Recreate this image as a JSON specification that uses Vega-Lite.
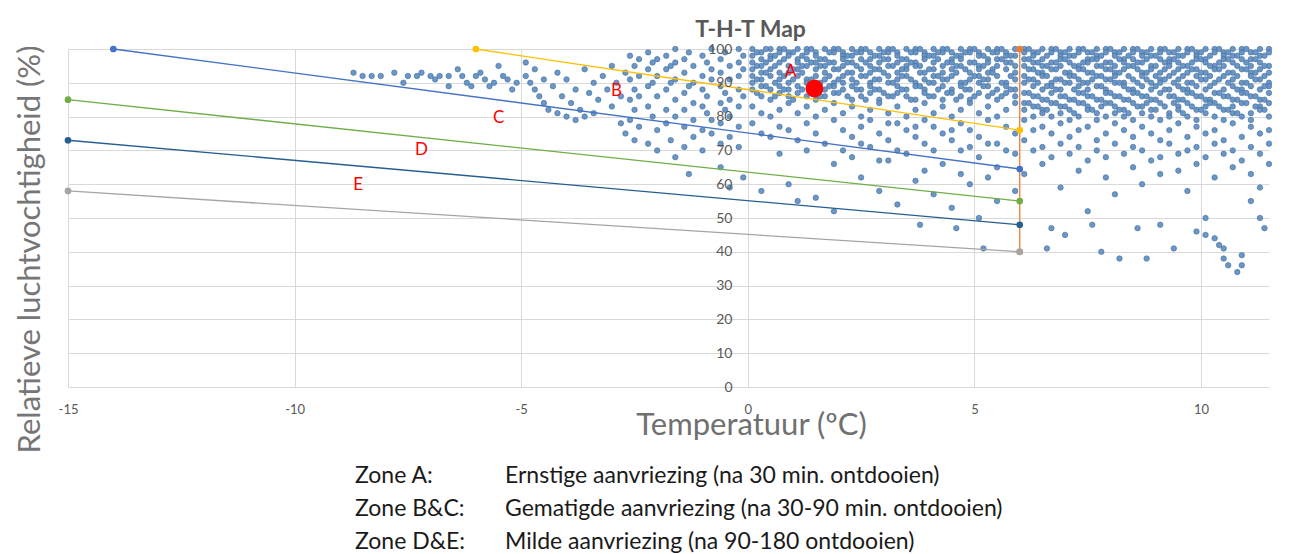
{
  "$schema": "https://vega.github.io/schema/vega-lite/v6.json",
  "background": "white",
  "padding": {"left": 13, "top": 19, "right": 5, "bottom": 0},
  "config": {"view": {"stroke": null}, "font": "Lato"},
  "spacing": 7,
  "datasets": {
    "pts": [
      {"t":-8.7,"h":93},{"t":-8.5,"h":92},{"t":-8.3,"h":92},{"t":-8.1,"h":92},{"t":-7.8,"h":93},{"t":-7.6,"h":90},{"t":-7.5,"h":92},{"t":-7.3,"h":92},{"t":-7.2,"h":93},{"t":-7.0,"h":92},{"t":-6.9,"h":91},{"t":-6.8,"h":92},{"t":-6.6,"h":92},{"t":-6.6,"h":89},{"t":-6.4,"h":94},{"t":-6.3,"h":92},{"t":-6.2,"h":90},{"t":-6.1,"h":89},{"t":-6.0,"h":92},{"t":-5.9,"h":93},{"t":-5.8,"h":91},{"t":-5.7,"h":89},{"t":-5.6,"h":90},{"t":-5.5,"h":95},{"t":-5.4,"h":92},{"t":-5.3,"h":91},{"t":-5.2,"h":88},{"t":-5.1,"h":90},{"t":-4.9,"h":92},{"t":-4.9,"h":96},{"t":-4.8,"h":90},{"t":-4.7,"h":94},{"t":-4.7,"h":88},{"t":-4.6,"h":86},{"t":-4.5,"h":91},{"t":-4.5,"h":84},{"t":-4.4,"h":82},{"t":-4.3,"h":89},{"t":-4.2,"h":93},{"t":-4.2,"h":81},{"t":-4.1,"h":86},{"t":-4.0,"h":91},{"t":-4.0,"h":80},{"t":-3.9,"h":84},{"t":-3.8,"h":88},{"t":-3.8,"h":79},{"t":-3.7,"h":82},{"t":-3.6,"h":94},{"t":-3.6,"h":80},{"t":-3.5,"h":87},{"t":-3.4,"h":90},{"t":-3.4,"h":81},{"t":-3.3,"h":85},{"t":-3.2,"h":92},{"t":-3.1,"h":88},{"t":-3.0,"h":83},{"t":-3.0,"h":95},{"t":-2.9,"h":90},{"t":-2.8,"h":86},{"t":-2.8,"h":78},{"t":-2.7,"h":93},{"t":-2.7,"h":75},
      {"t":-2.6,"h":98},{"t":-2.6,"h":91},{"t":-2.6,"h":85},{"t":-2.6,"h":79},{"t":-2.5,"h":95},{"t":-2.5,"h":88},{"t":-2.5,"h":82},{"t":-2.5,"h":73},{"t":-2.4,"h":97},{"t":-2.4,"h":92},{"t":-2.4,"h":86},{"t":-2.4,"h":77},{"t":-2.2,"h":99},{"t":-2.2,"h":94},{"t":-2.2,"h":89},{"t":-2.2,"h":83},{"t":-2.2,"h":72},{"t":-2.1,"h":96},{"t":-2.1,"h":90},{"t":-2.1,"h":80},{"t":-2.0,"h":97},{"t":-2.0,"h":92},{"t":-2.0,"h":86},{"t":-2.0,"h":76},{"t":-2.0,"h":70},{"t":-1.8,"h":98},{"t":-1.8,"h":94},{"t":-1.8,"h":88},{"t":-1.8,"h":82},{"t":-1.8,"h":78},{"t":-1.7,"h":95},{"t":-1.7,"h":90},{"t":-1.7,"h":73},{"t":-1.6,"h":100},{"t":-1.6,"h":96},{"t":-1.6,"h":91},{"t":-1.6,"h":85},{"t":-1.6,"h":80},{"t":-1.6,"h":68},{"t":-1.4,"h":97},{"t":-1.4,"h":93},{"t":-1.4,"h":87},{"t":-1.4,"h":82},{"t":-1.4,"h":77},{"t":-1.4,"h":71},{"t":-1.3,"h":99},{"t":-1.3,"h":89},{"t":-1.3,"h":63},{"t":-1.2,"h":95},{"t":-1.2,"h":90},{"t":-1.2,"h":84},{"t":-1.2,"h":79},{"t":-1.2,"h":74},{"t":-1.0,"h":98},{"t":-1.0,"h":92},{"t":-1.0,"h":88},{"t":-1.0,"h":83},{"t":-1.0,"h":76},{"t":-1.0,"h":70},{"t":-0.9,"h":96},{"t":-0.9,"h":86},{"t":-0.9,"h":81},{"t":-0.8,"h":100},{"t":-0.8,"h":94},{"t":-0.8,"h":91},{"t":-0.8,"h":79},{"t":-0.8,"h":75},{"t":-0.6,"h":97},{"t":-0.6,"h":93},{"t":-0.6,"h":89},{"t":-0.6,"h":84},{"t":-0.6,"h":78},{"t":-0.6,"h":72},{"t":-0.6,"h":65},{"t":-0.5,"h":99},{"t":-0.5,"h":87},{"t":-0.5,"h":82},{"t":-0.4,"h":95},{"t":-0.4,"h":91},{"t":-0.4,"h":85},{"t":-0.4,"h":80},{"t":-0.4,"h":74},{"t":-0.4,"h":59},{"t":-0.2,"h":100},{"t":-0.2,"h":96},{"t":-0.2,"h":92},{"t":-0.2,"h":88},{"t":-0.2,"h":83},{"t":-0.2,"h":77},{"t":-0.2,"h":71},{"t":-0.1,"h":98},{"t":-0.1,"h":94},{"t":-0.1,"h":86},{"t":-0.1,"h":62},
      {"t":0.1,"h":100},{"t":0.1,"h":98},{"t":0.1,"h":96},{"t":0.1,"h":94},{"t":0.1,"h":92},{"t":0.1,"h":90},{"t":0.1,"h":88},{"t":0.1,"h":83},{"t":0.1,"h":78},
      {"t":0.3,"h":99},{"t":0.3,"h":97},{"t":0.3,"h":95},{"t":0.3,"h":93},{"t":0.3,"h":91},{"t":0.3,"h":89},{"t":0.3,"h":86},{"t":0.3,"h":81},{"t":0.3,"h":75},{"t":0.3,"h":58},
      {"t":0.5,"h":100},{"t":0.5,"h":98},{"t":0.5,"h":97},{"t":0.5,"h":94},{"t":0.5,"h":92},{"t":0.5,"h":88},{"t":0.5,"h":85},{"t":0.5,"h":80},{"t":0.5,"h":74},
      {"t":0.7,"h":100},{"t":0.7,"h":99},{"t":0.7,"h":96},{"t":0.7,"h":93},{"t":0.7,"h":91},{"t":0.7,"h":89},{"t":0.7,"h":87},{"t":0.7,"h":82},{"t":0.7,"h":77},{"t":0.7,"h":69},
      {"t":0.9,"h":99},{"t":0.9,"h":98},{"t":0.9,"h":95},{"t":0.9,"h":93},{"t":0.9,"h":90},{"t":0.9,"h":88},{"t":0.9,"h":86},{"t":0.9,"h":84},{"t":0.9,"h":76},{"t":0.9,"h":60},
      {"t":1.1,"h":100},{"t":1.1,"h":97},{"t":1.1,"h":96},{"t":1.1,"h":94},{"t":1.1,"h":92},{"t":1.1,"h":89},{"t":1.1,"h":87},{"t":1.1,"h":81},{"t":1.1,"h":73},{"t":1.1,"h":55},
      {"t":1.3,"h":100},{"t":1.3,"h":99},{"t":1.3,"h":97},{"t":1.3,"h":95},{"t":1.3,"h":91},{"t":1.3,"h":90},{"t":1.3,"h":86},{"t":1.3,"h":83},{"t":1.3,"h":78},{"t":1.3,"h":70},
      {"t":1.5,"h":99},{"t":1.5,"h":98},{"t":1.5,"h":96},{"t":1.5,"h":94},{"t":1.5,"h":92},{"t":1.5,"h":89},{"t":1.5,"h":85},{"t":1.5,"h":80},{"t":1.5,"h":75},{"t":1.5,"h":56},
      {"t":1.7,"h":100},{"t":1.7,"h":97},{"t":1.7,"h":95},{"t":1.7,"h":93},{"t":1.7,"h":91},{"t":1.7,"h":88},{"t":1.7,"h":86},{"t":1.7,"h":82},{"t":1.7,"h":72},
      {"t":1.9,"h":100},{"t":1.9,"h":99},{"t":1.9,"h":96},{"t":1.9,"h":94},{"t":1.9,"h":90},{"t":1.9,"h":89},{"t":1.9,"h":87},{"t":1.9,"h":84},{"t":1.9,"h":79},{"t":1.9,"h":66},{"t":1.9,"h":52},
      {"t":2.1,"h":99},{"t":2.1,"h":98},{"t":2.1,"h":97},{"t":2.1,"h":95},{"t":2.1,"h":92},{"t":2.1,"h":90},{"t":2.1,"h":88},{"t":2.1,"h":81},{"t":2.1,"h":76},{"t":2.1,"h":70},
      {"t":2.3,"h":100},{"t":2.3,"h":98},{"t":2.3,"h":96},{"t":2.3,"h":93},{"t":2.3,"h":91},{"t":2.3,"h":89},{"t":2.3,"h":85},{"t":2.3,"h":83},{"t":2.3,"h":74},{"t":2.3,"h":68},
      {"t":2.5,"h":100},{"t":2.5,"h":99},{"t":2.5,"h":97},{"t":2.5,"h":94},{"t":2.5,"h":92},{"t":2.5,"h":88},{"t":2.5,"h":86},{"t":2.5,"h":80},{"t":2.5,"h":77},{"t":2.5,"h":72},{"t":2.5,"h":62},
      {"t":2.7,"h":99},{"t":2.7,"h":97},{"t":2.7,"h":95},{"t":2.7,"h":93},{"t":2.7,"h":90},{"t":2.7,"h":89},{"t":2.7,"h":87},{"t":2.7,"h":82},{"t":2.7,"h":79},{"t":2.7,"h":71},
      {"t":2.9,"h":100},{"t":2.9,"h":98},{"t":2.9,"h":96},{"t":2.9,"h":94},{"t":2.9,"h":91},{"t":2.9,"h":88},{"t":2.9,"h":85},{"t":2.9,"h":84},{"t":2.9,"h":75},{"t":2.9,"h":67},{"t":2.9,"h":58},
      {"t":3.1,"h":100},{"t":3.1,"h":99},{"t":3.1,"h":97},{"t":3.1,"h":95},{"t":3.1,"h":92},{"t":3.1,"h":90},{"t":3.1,"h":86},{"t":3.1,"h":81},{"t":3.1,"h":78},{"t":3.1,"h":73},{"t":3.1,"h":67},
      {"t":3.3,"h":99},{"t":3.3,"h":98},{"t":3.3,"h":96},{"t":3.3,"h":93},{"t":3.3,"h":91},{"t":3.3,"h":89},{"t":3.3,"h":87},{"t":3.3,"h":83},{"t":3.3,"h":78},{"t":3.3,"h":70},{"t":3.3,"h":54},
      {"t":3.5,"h":100},{"t":3.5,"h":97},{"t":3.5,"h":95},{"t":3.5,"h":94},{"t":3.5,"h":92},{"t":3.5,"h":88},{"t":3.5,"h":86},{"t":3.5,"h":80},{"t":3.5,"h":76},{"t":3.5,"h":69},
      {"t":3.7,"h":100},{"t":3.7,"h":99},{"t":3.7,"h":96},{"t":3.7,"h":95},{"t":3.7,"h":90},{"t":3.7,"h":89},{"t":3.7,"h":85},{"t":3.7,"h":82},{"t":3.7,"h":77},{"t":3.7,"h":74},{"t":3.7,"h":61},
      {"t":3.9,"h":99},{"t":3.9,"h":98},{"t":3.9,"h":97},{"t":3.9,"h":93},{"t":3.9,"h":91},{"t":3.9,"h":88},{"t":3.9,"h":87},{"t":3.9,"h":84},{"t":3.9,"h":79},{"t":3.9,"h":72},{"t":3.9,"h":64},
      {"t":4.1,"h":100},{"t":4.1,"h":98},{"t":4.1,"h":96},{"t":4.1,"h":94},{"t":4.1,"h":92},{"t":4.1,"h":90},{"t":4.1,"h":86},{"t":4.1,"h":81},{"t":4.1,"h":77},{"t":4.1,"h":70},{"t":4.1,"h":57},
      {"t":4.3,"h":100},{"t":4.3,"h":99},{"t":4.3,"h":95},{"t":4.3,"h":93},{"t":4.3,"h":91},{"t":4.3,"h":89},{"t":4.3,"h":85},{"t":4.3,"h":83},{"t":4.3,"h":75},{"t":4.3,"h":66},
      {"t":4.5,"h":99},{"t":4.5,"h":97},{"t":4.5,"h":96},{"t":4.5,"h":94},{"t":4.5,"h":92},{"t":4.5,"h":88},{"t":4.5,"h":87},{"t":4.5,"h":80},{"t":4.5,"h":76},{"t":4.5,"h":73},{"t":4.5,"h":53},
      {"t":4.7,"h":100},{"t":4.7,"h":98},{"t":4.7,"h":97},{"t":4.7,"h":95},{"t":4.7,"h":90},{"t":4.7,"h":89},{"t":4.7,"h":86},{"t":4.7,"h":82},{"t":4.7,"h":78},{"t":4.7,"h":70},{"t":4.7,"h":63},
      {"t":4.9,"h":100},{"t":4.9,"h":99},{"t":4.9,"h":96},{"t":4.9,"h":93},{"t":4.9,"h":91},{"t":4.9,"h":88},{"t":4.9,"h":85},{"t":4.9,"h":84},{"t":4.9,"h":76},{"t":4.9,"h":71},{"t":4.9,"h":60},
      {"t":5.1,"h":99},{"t":5.1,"h":98},{"t":5.1,"h":95},{"t":5.1,"h":94},{"t":5.1,"h":92},{"t":5.1,"h":90},{"t":5.1,"h":87},{"t":5.1,"h":81},{"t":5.1,"h":74},{"t":5.1,"h":68},{"t":5.1,"h":50},
      {"t":5.3,"h":100},{"t":5.3,"h":97},{"t":5.3,"h":96},{"t":5.3,"h":93},{"t":5.3,"h":91},{"t":5.3,"h":89},{"t":5.3,"h":86},{"t":5.3,"h":83},{"t":5.3,"h":79},{"t":5.3,"h":72},{"t":5.3,"h":62},
      {"t":5.5,"h":100},{"t":5.5,"h":99},{"t":5.5,"h":97},{"t":5.5,"h":95},{"t":5.5,"h":92},{"t":5.5,"h":88},{"t":5.5,"h":85},{"t":5.5,"h":80},{"t":5.5,"h":72},{"t":5.5,"h":65},{"t":5.5,"h":55},
      {"t":5.7,"h":99},{"t":5.7,"h":98},{"t":5.7,"h":96},{"t":5.7,"h":94},{"t":5.7,"h":90},{"t":5.7,"h":89},{"t":5.7,"h":87},{"t":5.7,"h":82},{"t":5.7,"h":77},{"t":5.7,"h":70},
      {"t":5.9,"h":100},{"t":5.9,"h":98},{"t":5.9,"h":95},{"t":5.9,"h":93},{"t":5.9,"h":91},{"t":5.9,"h":88},{"t":5.9,"h":86},{"t":5.9,"h":84},{"t":5.9,"h":75},{"t":5.9,"h":69},{"t":5.9,"h":58},
      {"t":6.1,"h":100},{"t":6.1,"h":99},{"t":6.1,"h":97},{"t":6.1,"h":95},{"t":6.1,"h":92},{"t":6.1,"h":90},{"t":6.1,"h":87},{"t":6.1,"h":84},{"t":6.1,"h":82},{"t":6.1,"h":79},{"t":6.1,"h":73},{"t":6.1,"h":63},
      {"t":6.3,"h":99},{"t":6.3,"h":98},{"t":6.3,"h":96},{"t":6.3,"h":94},{"t":6.3,"h":91},{"t":6.3,"h":89},{"t":6.3,"h":86},{"t":6.3,"h":83},{"t":6.3,"h":80},{"t":6.3,"h":76},{"t":6.3,"h":70},
      {"t":6.5,"h":100},{"t":6.5,"h":97},{"t":6.5,"h":95},{"t":6.5,"h":93},{"t":6.5,"h":92},{"t":6.5,"h":88},{"t":6.5,"h":85},{"t":6.5,"h":82},{"t":6.5,"h":81},{"t":6.5,"h":77},{"t":6.5,"h":71},{"t":6.5,"h":66},
      {"t":6.7,"h":100},{"t":6.7,"h":99},{"t":6.7,"h":96},{"t":6.7,"h":94},{"t":6.7,"h":90},{"t":6.7,"h":89},{"t":6.7,"h":87},{"t":6.7,"h":84},{"t":6.7,"h":80},{"t":6.7,"h":75},{"t":6.7,"h":68},{"t":6.7,"h":47},
      {"t":6.9,"h":99},{"t":6.9,"h":98},{"t":6.9,"h":97},{"t":6.9,"h":95},{"t":6.9,"h":91},{"t":6.9,"h":88},{"t":6.9,"h":86},{"t":6.9,"h":83},{"t":6.9,"h":81},{"t":6.9,"h":78},{"t":6.9,"h":72},{"t":6.9,"h":59},
      {"t":7.1,"h":100},{"t":7.1,"h":98},{"t":7.1,"h":96},{"t":7.1,"h":93},{"t":7.1,"h":92},{"t":7.1,"h":90},{"t":7.1,"h":85},{"t":7.1,"h":82},{"t":7.1,"h":79},{"t":7.1,"h":74},{"t":7.1,"h":69},
      {"t":7.3,"h":100},{"t":7.3,"h":99},{"t":7.3,"h":95},{"t":7.3,"h":94},{"t":7.3,"h":91},{"t":7.3,"h":89},{"t":7.3,"h":87},{"t":7.3,"h":84},{"t":7.3,"h":80},{"t":7.3,"h":76},{"t":7.3,"h":71},{"t":7.3,"h":64},
      {"t":7.5,"h":99},{"t":7.5,"h":97},{"t":7.5,"h":96},{"t":7.5,"h":93},{"t":7.5,"h":90},{"t":7.5,"h":88},{"t":7.5,"h":86},{"t":7.5,"h":83},{"t":7.5,"h":82},{"t":7.5,"h":77},{"t":7.5,"h":67},{"t":7.5,"h":52},
      {"t":7.7,"h":100},{"t":7.7,"h":98},{"t":7.7,"h":97},{"t":7.7,"h":95},{"t":7.7,"h":92},{"t":7.7,"h":89},{"t":7.7,"h":85},{"t":7.7,"h":81},{"t":7.7,"h":79},{"t":7.7,"h":73},{"t":7.7,"h":70},
      {"t":7.9,"h":100},{"t":7.9,"h":99},{"t":7.9,"h":96},{"t":7.9,"h":94},{"t":7.9,"h":91},{"t":7.9,"h":88},{"t":7.9,"h":87},{"t":7.9,"h":84},{"t":7.9,"h":80},{"t":7.9,"h":75},{"t":7.9,"h":68},{"t":7.9,"h":62},
      {"t":8.1,"h":99},{"t":8.1,"h":98},{"t":8.1,"h":95},{"t":8.1,"h":93},{"t":8.1,"h":92},{"t":8.1,"h":90},{"t":8.1,"h":86},{"t":8.1,"h":83},{"t":8.1,"h":81},{"t":8.1,"h":78},{"t":8.1,"h":72},{"t":8.1,"h":57},
      {"t":8.3,"h":100},{"t":8.3,"h":97},{"t":8.3,"h":96},{"t":8.3,"h":94},{"t":8.3,"h":90},{"t":8.3,"h":89},{"t":8.3,"h":85},{"t":8.3,"h":82},{"t":8.3,"h":80},{"t":8.3,"h":76},{"t":8.3,"h":69},
      {"t":8.5,"h":100},{"t":8.5,"h":99},{"t":8.5,"h":97},{"t":8.5,"h":95},{"t":8.5,"h":91},{"t":8.5,"h":88},{"t":8.5,"h":87},{"t":8.5,"h":84},{"t":8.5,"h":79},{"t":8.5,"h":74},{"t":8.5,"h":71},{"t":8.5,"h":65},
      {"t":8.7,"h":99},{"t":8.7,"h":98},{"t":8.7,"h":96},{"t":8.7,"h":93},{"t":8.7,"h":92},{"t":8.7,"h":89},{"t":8.7,"h":86},{"t":8.7,"h":83},{"t":8.7,"h":81},{"t":8.7,"h":77},{"t":8.7,"h":70},{"t":8.7,"h":60},
      {"t":8.9,"h":100},{"t":8.9,"h":98},{"t":8.9,"h":95},{"t":8.9,"h":94},{"t":8.9,"h":90},{"t":8.9,"h":88},{"t":8.9,"h":85},{"t":8.9,"h":82},{"t":8.9,"h":80},{"t":8.9,"h":75},{"t":8.9,"h":67},
      {"t":9.1,"h":100},{"t":9.1,"h":99},{"t":9.1,"h":97},{"t":9.1,"h":93},{"t":9.1,"h":91},{"t":9.1,"h":90},{"t":9.1,"h":87},{"t":9.1,"h":84},{"t":9.1,"h":79},{"t":9.1,"h":73},{"t":9.1,"h":68},{"t":9.1,"h":63},{"t":9.1,"h":48},
      {"t":9.3,"h":99},{"t":9.3,"h":97},{"t":9.3,"h":96},{"t":9.3,"h":95},{"t":9.3,"h":92},{"t":9.3,"h":88},{"t":9.3,"h":86},{"t":9.3,"h":81},{"t":9.3,"h":80},{"t":9.3,"h":76},{"t":9.3,"h":72},
      {"t":9.5,"h":100},{"t":9.5,"h":98},{"t":9.5,"h":96},{"t":9.5,"h":94},{"t":9.5,"h":91},{"t":9.5,"h":89},{"t":9.5,"h":85},{"t":9.5,"h":83},{"t":9.5,"h":82},{"t":9.5,"h":78},{"t":9.5,"h":69},{"t":9.5,"h":64},
      {"t":9.7,"h":100},{"t":9.7,"h":99},{"t":9.7,"h":95},{"t":9.7,"h":93},{"t":9.7,"h":90},{"t":9.7,"h":88},{"t":9.7,"h":87},{"t":9.7,"h":84},{"t":9.7,"h":80},{"t":9.7,"h":74},{"t":9.7,"h":70},{"t":9.7,"h":58},
      {"t":9.9,"h":99},{"t":9.9,"h":98},{"t":9.9,"h":97},{"t":9.9,"h":94},{"t":9.9,"h":92},{"t":9.9,"h":89},{"t":9.9,"h":86},{"t":9.9,"h":82},{"t":9.9,"h":79},{"t":9.9,"h":77},{"t":9.9,"h":71},{"t":9.9,"h":66},{"t":9.9,"h":46},
      {"t":10.1,"h":100},{"t":10.1,"h":97},{"t":10.1,"h":96},{"t":10.1,"h":93},{"t":10.1,"h":91},{"t":10.1,"h":88},{"t":10.1,"h":85},{"t":10.1,"h":83},{"t":10.1,"h":81},{"t":10.1,"h":75},{"t":10.1,"h":68},{"t":10.1,"h":50},{"t":10.1,"h":45},
      {"t":10.3,"h":100},{"t":10.3,"h":99},{"t":10.3,"h":95},{"t":10.3,"h":94},{"t":10.3,"h":90},{"t":10.3,"h":87},{"t":10.3,"h":84},{"t":10.3,"h":80},{"t":10.3,"h":76},{"t":10.3,"h":72},{"t":10.3,"h":62},{"t":10.3,"h":44},
      {"t":10.5,"h":99},{"t":10.5,"h":98},{"t":10.5,"h":97},{"t":10.5,"h":95},{"t":10.5,"h":92},{"t":10.5,"h":88},{"t":10.5,"h":86},{"t":10.5,"h":82},{"t":10.5,"h":79},{"t":10.5,"h":73},{"t":10.5,"h":69},{"t":10.5,"h":41},{"t":10.5,"h":38},
      {"t":10.7,"h":100},{"t":10.7,"h":98},{"t":10.7,"h":96},{"t":10.7,"h":93},{"t":10.7,"h":91},{"t":10.7,"h":89},{"t":10.7,"h":85},{"t":10.7,"h":83},{"t":10.7,"h":81},{"t":10.7,"h":78},{"t":10.7,"h":70},{"t":10.7,"h":65},
      {"t":10.9,"h":100},{"t":10.9,"h":99},{"t":10.9,"h":97},{"t":10.9,"h":94},{"t":10.9,"h":90},{"t":10.9,"h":88},{"t":10.9,"h":87},{"t":10.9,"h":84},{"t":10.9,"h":80},{"t":10.9,"h":74},{"t":10.9,"h":67},{"t":10.9,"h":39},{"t":10.9,"h":36},
      {"t":11.1,"h":99},{"t":11.1,"h":97},{"t":11.1,"h":95},{"t":11.1,"h":93},{"t":11.1,"h":92},{"t":11.1,"h":89},{"t":11.1,"h":86},{"t":11.1,"h":81},{"t":11.1,"h":79},{"t":11.1,"h":77},{"t":11.1,"h":71},{"t":11.1,"h":63},{"t":11.1,"h":55},
      {"t":11.3,"h":100},{"t":11.3,"h":98},{"t":11.3,"h":96},{"t":11.3,"h":94},{"t":11.3,"h":91},{"t":11.3,"h":88},{"t":11.3,"h":85},{"t":11.3,"h":83},{"t":11.3,"h":82},{"t":11.3,"h":75},{"t":11.3,"h":69},{"t":11.3,"h":59},{"t":11.3,"h":50},
      {"t":11.5,"h":100},{"t":11.5,"h":99},{"t":11.5,"h":95},{"t":11.5,"h":93},{"t":11.5,"h":90},{"t":11.5,"h":89},{"t":11.5,"h":87},{"t":11.5,"h":84},{"t":11.5,"h":80},{"t":11.5,"h":76},{"t":11.5,"h":72},{"t":11.5,"h":66},
      {"t":3.8,"h":48},{"t":4.6,"h":47},{"t":5.2,"h":41},{"t":6.6,"h":41},{"t":7.0,"h":45},{"t":7.8,"h":40},{"t":8.2,"h":38},{"t":8.8,"h":38},{"t":9.4,"h":41},{"t":10.4,"h":42},{"t":10.6,"h":36},{"t":10.8,"h":34},{"t":11.4,"h":47},{"t":7.6,"h":48},{"t":8.6,"h":47},
      {"t":0.2,"h":99},{"t":0.2,"h":95},{"t":0.2,"h":91},{"t":0.2,"h":87},{"t":0.4,"h":100},{"t":0.4,"h":96},{"t":0.4,"h":93},{"t":0.4,"h":89},{"t":0.6,"h":98},{"t":0.6,"h":95},{"t":0.6,"h":90},{"t":0.6,"h":86},{"t":0.8,"h":100},{"t":0.8,"h":97},{"t":0.8,"h":92},{"t":0.8,"h":88},{"t":1.0,"h":99},{"t":1.0,"h":94},{"t":1.0,"h":91},{"t":1.0,"h":85},{"t":1.2,"h":98},{"t":1.2,"h":95},{"t":1.2,"h":93},{"t":1.2,"h":88},{"t":1.4,"h":100},{"t":1.4,"h":96},{"t":1.4,"h":91},{"t":1.4,"h":87},{"t":1.6,"h":97},{"t":1.6,"h":95},{"t":1.6,"h":90},{"t":1.6,"h":86},{"t":1.8,"h":99},{"t":1.8,"h":96},{"t":1.8,"h":92},{"t":1.8,"h":89},{"t":2.0,"h":100},{"t":2.0,"h":94},{"t":2.0,"h":91},{"t":2.0,"h":87},{"t":2.2,"h":98},{"t":2.2,"h":96},{"t":2.2,"h":93},{"t":2.2,"h":86},{"t":2.4,"h":99},{"t":2.4,"h":95},{"t":2.4,"h":90},{"t":2.4,"h":88},{"t":2.6,"h":100},{"t":2.6,"h":96},{"t":2.6,"h":92},{"t":2.6,"h":85},{"t":2.8,"h":98},{"t":2.8,"h":94},{"t":2.8,"h":91},{"t":2.8,"h":88},{"t":3.0,"h":99},{"t":3.0,"h":97},{"t":3.0,"h":93},{"t":3.0,"h":87},{"t":3.2,"h":100},{"t":3.2,"h":95},{"t":3.2,"h":90},{"t":3.2,"h":86},{"t":3.4,"h":97},{"t":3.4,"h":94},{"t":3.4,"h":92},{"t":3.4,"h":88},{"t":3.6,"h":99},{"t":3.6,"h":96},{"t":3.6,"h":91},{"t":3.6,"h":85},{"t":3.8,"h":100},{"t":3.8,"h":95},{"t":3.8,"h":93},{"t":3.8,"h":89},{"t":4.0,"h":98},{"t":4.0,"h":94},{"t":4.0,"h":90},{"t":4.0,"h":86},{"t":4.2,"h":99},{"t":4.2,"h":97},{"t":4.2,"h":92},{"t":4.2,"h":88},{"t":4.4,"h":100},{"t":4.4,"h":96},{"t":4.4,"h":91},{"t":4.4,"h":87},{"t":4.6,"h":98},{"t":4.6,"h":95},{"t":4.6,"h":93},{"t":4.6,"h":85},{"t":4.8,"h":99},{"t":4.8,"h":94},{"t":4.8,"h":90},{"t":4.8,"h":88},{"t":5.0,"h":100},{"t":5.0,"h":96},{"t":5.0,"h":92},{"t":5.0,"h":86},{"t":5.2,"h":98},{"t":5.2,"h":95},{"t":5.2,"h":91},{"t":5.2,"h":89},{"t":5.4,"h":99},{"t":5.4,"h":94},{"t":5.4,"h":93},{"t":5.4,"h":87},{"t":5.6,"h":100},{"t":5.6,"h":97},{"t":5.6,"h":90},{"t":5.6,"h":86},{"t":5.8,"h":98},{"t":5.8,"h":96},{"t":5.8,"h":92},{"t":5.8,"h":88},
      {"t":6.2,"h":100},{"t":6.2,"h":97},{"t":6.2,"h":94},{"t":6.2,"h":91},{"t":6.2,"h":87},{"t":6.2,"h":84},{"t":6.4,"h":99},{"t":6.4,"h":96},{"t":6.4,"h":93},{"t":6.4,"h":90},{"t":6.4,"h":86},{"t":6.4,"h":83},{"t":6.6,"h":98},{"t":6.6,"h":95},{"t":6.6,"h":92},{"t":6.6,"h":89},{"t":6.6,"h":85},{"t":6.6,"h":82},{"t":6.8,"h":100},{"t":6.8,"h":96},{"t":6.8,"h":94},{"t":6.8,"h":91},{"t":6.8,"h":88},{"t":6.8,"h":84},{"t":7.0,"h":99},{"t":7.0,"h":97},{"t":7.0,"h":93},{"t":7.0,"h":90},{"t":7.0,"h":86},{"t":7.0,"h":83},{"t":7.2,"h":98},{"t":7.2,"h":95},{"t":7.2,"h":92},{"t":7.2,"h":88},{"t":7.2,"h":85},{"t":7.2,"h":81},{"t":7.4,"h":100},{"t":7.4,"h":96},{"t":7.4,"h":94},{"t":7.4,"h":90},{"t":7.4,"h":87},{"t":7.4,"h":84},{"t":7.6,"h":99},{"t":7.6,"h":97},{"t":7.6,"h":93},{"t":7.6,"h":91},{"t":7.6,"h":86},{"t":7.6,"h":82},{"t":7.8,"h":98},{"t":7.8,"h":95},{"t":7.8,"h":92},{"t":7.8,"h":89},{"t":7.8,"h":85},{"t":7.8,"h":83},{"t":8.0,"h":100},{"t":8.0,"h":96},{"t":8.0,"h":94},{"t":8.0,"h":91},{"t":8.0,"h":87},{"t":8.0,"h":84},{"t":8.2,"h":99},{"t":8.2,"h":97},{"t":8.2,"h":93},{"t":8.2,"h":90},{"t":8.2,"h":86},{"t":8.2,"h":82},{"t":8.4,"h":98},{"t":8.4,"h":95},{"t":8.4,"h":92},{"t":8.4,"h":88},{"t":8.4,"h":85},{"t":8.4,"h":81},{"t":8.6,"h":100},{"t":8.6,"h":96},{"t":8.6,"h":94},{"t":8.6,"h":90},{"t":8.6,"h":87},{"t":8.6,"h":83},{"t":8.8,"h":99},{"t":8.8,"h":97},{"t":8.8,"h":93},{"t":8.8,"h":91},{"t":8.8,"h":86},{"t":8.8,"h":84},{"t":9.0,"h":98},{"t":9.0,"h":95},{"t":9.0,"h":92},{"t":9.0,"h":89},{"t":9.0,"h":85},{"t":9.0,"h":82},{"t":9.2,"h":100},{"t":9.2,"h":96},{"t":9.2,"h":94},{"t":9.2,"h":91},{"t":9.2,"h":88},{"t":9.2,"h":83},{"t":9.4,"h":99},{"t":9.4,"h":97},{"t":9.4,"h":93},{"t":9.4,"h":90},{"t":9.4,"h":86},{"t":9.4,"h":84},{"t":9.6,"h":98},{"t":9.6,"h":95},{"t":9.6,"h":92},{"t":9.6,"h":88},{"t":9.6,"h":85},{"t":9.6,"h":81},{"t":9.8,"h":100},{"t":9.8,"h":96},{"t":9.8,"h":94},{"t":9.8,"h":90},{"t":9.8,"h":87},{"t":9.8,"h":83},{"t":10.0,"h":99},{"t":10.0,"h":97},{"t":10.0,"h":93},{"t":10.0,"h":91},{"t":10.0,"h":86},{"t":10.0,"h":82},{"t":10.2,"h":98},{"t":10.2,"h":95},{"t":10.2,"h":92},{"t":10.2,"h":89},{"t":10.2,"h":85},{"t":10.2,"h":84},{"t":10.4,"h":100},{"t":10.4,"h":96},{"t":10.4,"h":94},{"t":10.4,"h":91},{"t":10.4,"h":87},{"t":10.4,"h":83},{"t":10.6,"h":99},{"t":10.6,"h":97},{"t":10.6,"h":93},{"t":10.6,"h":90},{"t":10.6,"h":86},{"t":10.6,"h":82},{"t":10.8,"h":98},{"t":10.8,"h":95},{"t":10.8,"h":92},{"t":10.8,"h":88},{"t":10.8,"h":85},{"t":10.8,"h":81},{"t":11.0,"h":100},{"t":11.0,"h":96},{"t":11.0,"h":94},{"t":11.0,"h":90},{"t":11.0,"h":87},{"t":11.0,"h":84},{"t":11.2,"h":99},{"t":11.2,"h":97},{"t":11.2,"h":93},{"t":11.2,"h":91},{"t":11.2,"h":86},{"t":11.2,"h":83},{"t":11.4,"h":98},{"t":11.4,"h":95},{"t":11.4,"h":92},{"t":11.4,"h":89},{"t":11.4,"h":85},{"t":11.4,"h":82}
    ],
    "lines": [
      {"line":"A","o":1,"t":6,"h":100},{"line":"A","o":2,"t":6,"h":40},
      {"line":"B","o":1,"t":-6,"h":100},{"line":"B","o":2,"t":6,"h":76},
      {"line":"C","o":1,"t":-14,"h":100},{"line":"C","o":2,"t":6,"h":64.5},
      {"line":"D","o":1,"t":-15,"h":85},{"line":"D","o":2,"t":6,"h":55},
      {"line":"E1","o":1,"t":-15,"h":73},{"line":"E1","o":2,"t":6,"h":48},
      {"line":"E2","o":1,"t":-15,"h":58},{"line":"E2","o":2,"t":6,"h":40}
    ],
    "zones": [
      {"zone":"A","t":0.95,"h":93.3},
      {"zone":"B","t":-2.9,"h":87.6},
      {"zone":"C","t":-5.5,"h":79.6},
      {"zone":"D","t":-7.2,"h":70},
      {"zone":"E","t":-8.6,"h":59.8}
    ],
    "legend": [
      {"row":1,"part":"zone","label":"Zone A:"},
      {"row":1,"part":"desc","label":"Ernstige aanvriezing (na 30 min. ontdooien)"},
      {"row":2,"part":"zone","label":"Zone B&C:"},
      {"row":2,"part":"desc","label":"Gematigde aanvriezing (na 30-90 min. ontdooien)"},
      {"row":3,"part":"zone","label":"Zone D&E:"},
      {"row":3,"part":"desc","label":"Milde aanvriezing (na 90-180 ontdooien)"}
    ]
  },
  "vconcat": [
    {
      "width": 1201,
      "height": 338,
      "title": {"text": "T-H-T Map", "fontSize": 23, "fontWeight": "bold", "color": "#595959", "font": "Lato", "anchor": "middle", "dx": 82, "offset": 0},
      "resolve": {"axis": {"y": "independent"}},
      "layer": [
        {
          "data": {"name": "pts"},
          "mark": {"type": "circle", "size": 30, "fill": "#6490c2", "stroke": "#3f6f9f", "strokeWidth": 0.6, "fillOpacity": 0.95, "opacity": 1},
          "encoding": {
            "x": {"field": "t", "type": "quantitative", "scale": {"domain": [-15, 11.5], "nice": false, "zero": false},
              "axis": {"values": [-15, -10, -5, 0, 5, 10], "labelExpr": "'' + datum.value", "grid": true, "gridColor": "#d9d9d9", "domain": false, "ticks": false, "labelFlush": false, "labelPadding": 16, "labelFontSize": 13, "labelColor": "#595959", "labelFont": "Lato", "title": "Temperatuur (ºC)", "titleFont": "Lato", "titleFontSize": 31, "titleFontWeight": "normal", "titleColor": "#707070", "titleX": 683, "titleY": 47, "titleAlign": "center", "titleBaseline": "alphabetic"}},
            "y": {"field": "h", "type": "quantitative", "scale": {"domain": [0, 100], "nice": false, "zero": false},
              "axis": {"orient": "left", "values": [0, 10, 20, 30, 40, 50, 60, 70, 80, 90, 100], "grid": true, "gridColor": "#d9d9d9", "domain": false, "ticks": false, "labels": false, "title": "Relatieve luchtvochtigheid (%)", "titleFont": "Lato", "titleFontSize": 31, "titleFontWeight": "normal", "titleColor": "#767676", "titleX": -38, "titleY": 200, "titleAngle": -90, "titleAlign": "center", "titleBaseline": "middle"}}
          }
        },
        {
          "data": {"name": "lines"},
          "mark": {"type": "line", "strokeWidth": 1.3, "point": {"filled": true, "size": 45}},
          "encoding": {
            "x": {"field": "t", "type": "quantitative", "scale": {"domain": [-15, 11.5], "nice": false, "zero": false}},
            "y": {"field": "h", "type": "quantitative", "scale": {"domain": [0, 100], "nice": false, "zero": false}, "axis": null},
            "color": {"field": "line", "type": "nominal", "scale": {"domain": ["A", "B", "C", "D", "E1", "E2"], "range": ["#ed7d31", "#ffc000", "#4472c4", "#70ad47", "#255e91", "#a5a5a5"]}, "legend": null},
            "order": {"field": "o", "type": "quantitative"}
          }
        },
        {
          "data": {"values": [{"t": 1.47, "h": 88.3}]},
          "mark": {"type": "circle", "size": 320, "color": "#ff0000", "opacity": 1},
          "encoding": {
            "x": {"field": "t", "type": "quantitative", "scale": {"domain": [-15, 11.5], "nice": false, "zero": false}},
            "y": {"field": "h", "type": "quantitative", "scale": {"domain": [0, 100], "nice": false, "zero": false}, "axis": null}
          }
        },
        {
          "data": {"name": "zones"},
          "mark": {"type": "text", "color": "#ff0000", "fontSize": 17, "font": "Lato"},
          "encoding": {
            "x": {"field": "t", "type": "quantitative", "scale": {"domain": [-15, 11.5], "nice": false, "zero": false}},
            "y": {"field": "h", "type": "quantitative", "scale": {"domain": [0, 100], "nice": false, "zero": false},
              "axis": {"orient": "left", "offset": -679, "values": [0, 10, 20, 30, 40, 50, 60, 70, 80, 90, 100], "grid": false, "domain": false, "ticks": false, "labelPadding": 15, "labelFontSize": 14, "labelColor": "#595959", "labelFont": "Lato", "title": null, "zindex": 1}},
            "text": {"field": "zone"}
          }
        }
      ]
    },
    {
      "width": 1201,
      "height": 98,
      "data": {"name": "legend"},
      "mark": {"type": "text", "align": "left", "baseline": "middle", "fontSize": 23, "font": "Lato", "color": "#1a1a1a"},
      "encoding": {
        "x": {"field": "part", "type": "nominal", "scale": {"type": "point", "domain": ["zone", "desc"], "range": [287, 437], "padding": 0}, "axis": null},
        "y": {"field": "row", "type": "ordinal", "axis": null},
        "text": {"field": "label"}
      }
    }
  ]
}
